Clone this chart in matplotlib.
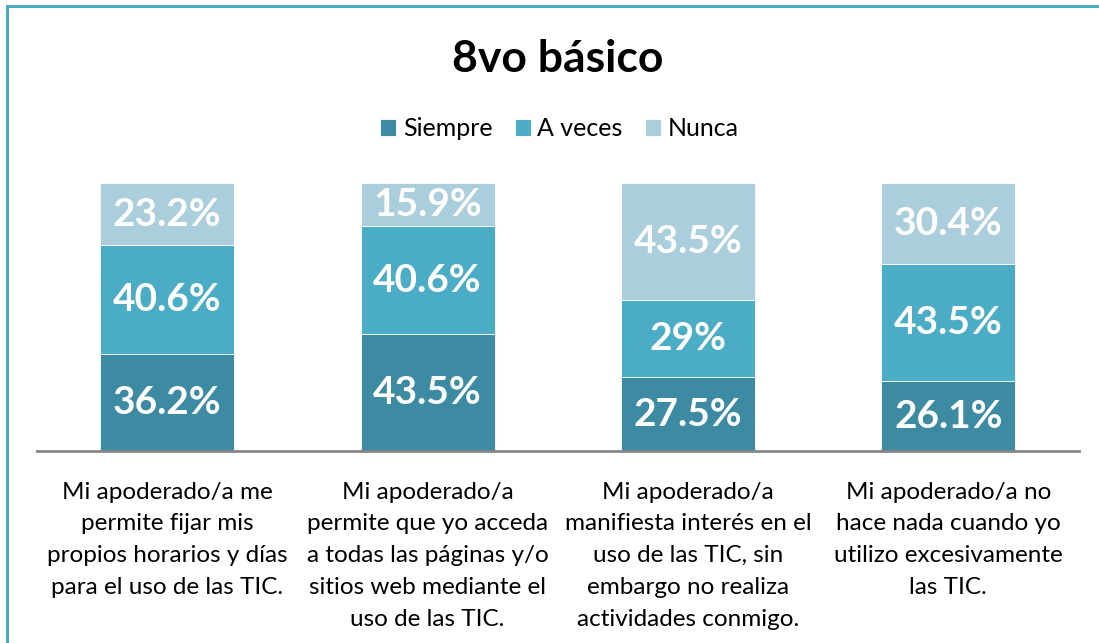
import numpy as np
import matplotlib.pyplot as plt

plt.rcParams['font.family'] = ['Lato', 'DejaVu Sans']

categorias = [
    "Mi apoderado/a me\npermite fijar mis\npropios horarios y días\npara el uso de las TIC.",
    "Mi apoderado/a\npermite que yo acceda\na todas las páginas y/o\nsitios web mediante el\nuso de las TIC.",
    "Mi apoderado/a\nmanifiesta interés en el\nuso de las TIC, sin\nembargo no realiza\nactividades conmigo.",
    "Mi apoderado/a no\nhace nada cuando yo\nutilizo excesivamente\nlas TIC.",
]
siempre = [36.2, 43.5, 27.5, 26.1]
a_veces = [40.6, 40.6, 29.0, 43.5]
nunca = [23.2, 15.9, 43.5, 30.4]
etiquetas = {
    "Siempre": ["36.2%", "43.5%", "27.5%", "26.1%"],
    "A veces": ["40.6%", "40.6%", "29%", "43.5%"],
    "Nunca": ["23.2%", "15.9%", "43.5%", "30.4%"],
}
colores = {"Siempre": "#3D8BA3", "A veces": "#4BACC6", "Nunca": "#AACEDC"}

fig = plt.figure(figsize=(10.99, 6.43), dpi=100)
ax = fig.add_axes([0.0337, 0.2986, 0.9477, 0.4168])

x = np.arange(len(categorias))
base = np.zeros(len(categorias))
for nombre, valores in [("Siempre", siempre), ("A veces", a_veces), ("Nunca", nunca)]:
    barras = ax.bar(x, valores, 0.515, bottom=base, color=colores[nombre],
                    label=nombre, edgecolor="white", linewidth=0.6)
    ax.bar_label(barras, labels=etiquetas[nombre], label_type="center",
                 color="white", fontsize=28, fontweight="bold")
    base = base + np.array(valores)

ax.set_xlim(-0.5, len(categorias) - 0.5)
ax.set_ylim(0, 100)
ax.set_yticks([])
ax.set_xticks(x)
ax.set_xticklabels(categorias, fontsize=17.5, linespacing=1.64)
ax.tick_params(axis="x", length=0, pad=22)
for lado in ["top", "right", "left"]:
    ax.spines[lado].set_visible(False)
ax.spines["bottom"].set_color("#868686")
ax.spines["bottom"].set_linewidth(2)

fig.text(0.507, 0.908, "8vo básico", ha="center", va="center",
         fontsize=32, fontweight="bold")
fig.legend(loc="center", bbox_to_anchor=(0.509, 0.80), ncol=3, frameon=False,
           fontsize=18, handlelength=0.65, handleheight=0.65,
           handletextpad=0.25, columnspacing=0.9)

# borde superior e izquierdo
fig.add_artist(plt.Line2D([0.0068, 0.0068], [0, 0.9907], color="#4BACC6",
                          linewidth=2.2, transform=fig.transFigure))
fig.add_artist(plt.Line2D([0.0068, 1], [0.9907, 0.9907], color="#4BACC6",
                          linewidth=2.2, transform=fig.transFigure))

fig.savefig("out.png", dpi=100)
